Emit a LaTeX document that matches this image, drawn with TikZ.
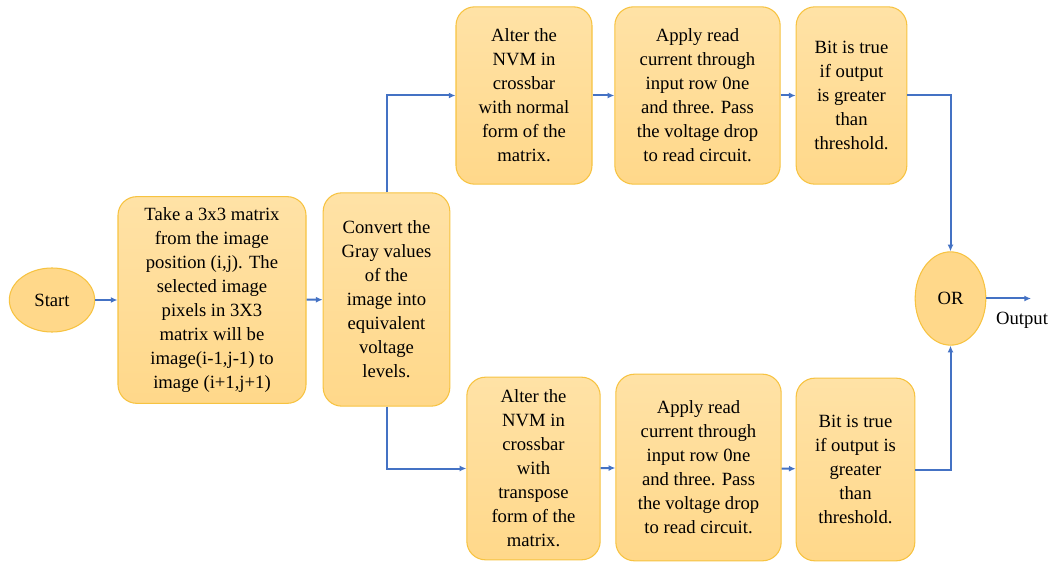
\documentclass[tikz,border=0pt]{standalone}
\usepackage{fontspec}
\setmainfont{Liberation Serif}
\usetikzlibrary{arrows.meta,shapes.geometric}
\definecolor{stepfill}{HTML}{FFD88A}
\definecolor{steptop}{HTML}{FFE2A6}
\definecolor{stepline}{HTML}{F7C341}
\definecolor{flow}{HTML}{4472C4}
\tikzset{
  every node/.style={font=\fontsize{14}{18}\selectfont,text=black},
  box/.style={draw=stepline,line width=0.8pt,rounded corners=14pt,top color=steptop,bottom color=stepfill,align=center,inner sep=3pt},
  oval/.style={ellipse,draw=stepline,line width=0.8pt,fill=stepfill,inner sep=1pt},
  arrow/.style={-{Latex[length=5pt,width=4.5pt]},line width=1.5pt,draw=flow},
}

\begin{document}
\begin{tikzpicture}[x=0.75pt,y=-0.75pt]
  \useasboundingbox (0,0) rectangle (1053,566);
  \node[oval,minimum width=64pt,minimum height=48pt] (start) at (52,300) {Start};
  \node[box,minimum width=141pt,minimum height=155pt] (take) at (212,300) {Take a 3x3 matrix\\from the image\\position (i,j). The\\selected image\\pixels in 3X3\\matrix will be\\image(i-1,j-1) to\\image (i+1,j+1)};
  \node[box,minimum width=95pt,minimum height=160pt] (convert) at (386.5,299.5) {Convert the\\Gray values\\of the\\image into\\equivalent\\voltage\\levels.};

  \node[box,minimum width=102pt,minimum height=133pt] (alterA) at (524,95.5) {Alter the\\NVM in\\crossbar\\with normal\\form of the\\matrix.};
  \node[box,minimum width=124pt,minimum height=133pt] (applyA) at (697.5,95.5) {Apply read\\current through\\input row 0ne\\and three. Pass\\the voltage drop\\to read circuit.};
  \node[box,minimum width=83pt,minimum height=133pt] (bitA) at (851.5,95.5) {Bit is true\\if output\\is greater\\than\\threshold.};

  \node[box,minimum width=100pt,minimum height=137pt] (alterB) at (533.5,468.5) {Alter the\\NVM in\\crossbar\\with\\transpose\\form of the\\matrix.};
  \node[box,minimum width=124pt,minimum height=140pt] (applyB) at (698.5,467.5) {Apply read\\current through\\input row 0ne\\and three. Pass\\the voltage drop\\to read circuit.};
  \node[box,minimum width=89pt,minimum height=137pt] (bitB) at (855.5,469.5) {Bit is true\\if output is\\greater\\than\\threshold.};

  \node[oval,minimum width=53pt,minimum height=70pt] (or) at (950.5,298.5) {OR};
  \coordinate (outend) at (1031,298.5);
  \node (outlbl) at (1022,320) {Output};

  \draw[arrow] (start) -- (take);
  \draw[arrow] (take) -- (convert);
  \draw[arrow] (convert.north) |- (alterA.west);
  \draw[arrow] (convert.south) |- (alterB.west);
  \draw[arrow] (alterA) -- (applyA);
  \draw[arrow] (applyA) -- (bitA);
  \draw[arrow] (alterB) -- (applyB);
  \draw[arrow] (applyB) -- (bitB);
  \draw[arrow] (bitA.east) -| (or.north);
  \draw[arrow] (bitB.east) -| (or.south);
  \draw[arrow] (or.east) -- (outend);
\end{tikzpicture}
\end{document}
